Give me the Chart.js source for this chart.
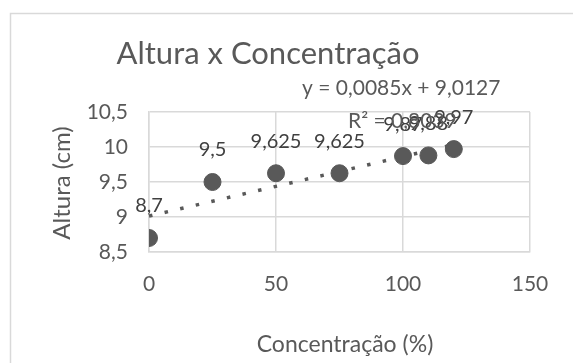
<!DOCTYPE html>
<html>
<head>
<meta charset="utf-8">
<script src="https://cdn.jsdelivr.net/npm/chart.js@4"></script>
<style>
  html, body { margin: 0; padding: 0; background: #fff; overflow: hidden; }
  #wrap { width: 573px; height: 363px; position: relative; }
</style>
</head>
<body>
<div id="wrap"><canvas id="c" width="573" height="363"></canvas></div>
<script>
// --- data ---
const concentracao = [0, 25, 50, 75, 100, 110, 120];
const altura = [8.7, 9.5, 9.625, 9.625, 9.87, 9.88, 9.97];
// trendline end points (y = 0,0085x + 9,0127)
const trendX = [0, 120];
const trendY = [9.0127, 10.0327];
const xTicks = [0, 50, 100, 150];
const yTicks = [8.5, 9, 9.5, 10, 10.5];

const FONT = "Lato, Carlito, 'Liberation Sans', sans-serif";
const GRAY = "#595959";
const GRID = "#d9d9d9";

const fmt = (v) => String(v).replace(".", ",");

// frame, title, equation, axis titles
const textsPlugin = {
  id: "texts",
  beforeDraw(chart) {
    const ctx = chart.ctx;
    ctx.save();
    ctx.fillStyle = "#fff";
    ctx.fillRect(0, 0, chart.width, chart.height);
    ctx.strokeStyle = GRID;
    ctx.lineWidth = 1.5;
    ctx.beginPath();
    ctx.moveTo(10.5, 400);
    ctx.lineTo(10.5, 13.5);
    ctx.lineTo(600, 13.5);
    ctx.stroke();
    ctx.restore();
  },
  afterDraw(chart) {
    const ctx = chart.ctx;
    ctx.save();
    ctx.fillStyle = GRAY;
    ctx.textBaseline = "alphabetic";
    ctx.textAlign = "center";
    ctx.font = "31px " + FONT;
    ctx.fillText("Altura x Concentração", 268, 64);

    ctx.textBaseline = "middle";
    ctx.font = "23px " + FONT;
    ctx.fillText("Concentração (%)", 345, 345);

    ctx.save();
    ctx.translate(62, 183);
    ctx.rotate(-Math.PI / 2);
    ctx.font = "24px " + FONT;
    ctx.fillText("Altura (cm)", 0, 0);
    ctx.restore();

    ctx.textAlign = "left";
    ctx.font = "21px " + FONT;
    ctx.fillText("y = 0,0085x + 9,0127", 302, 88);
    ctx.fillText("R² = 0,8039", 348, 121);
    ctx.restore();
  }
};

// value labels above the points
const labelsPlugin = {
  id: "pointLabels",
  afterDatasetsDraw(chart) {
    const ctx = chart.ctx;
    const meta = chart.getDatasetMeta(0);
    ctx.save();
    ctx.fillStyle = "#404040";
    ctx.font = "20px " + FONT;
    ctx.textAlign = "center";
    ctx.textBaseline = "middle";
    meta.data.forEach((pt, i) => {
      ctx.fillText(fmt(altura[i]), pt.x, pt.y - 32);
    });
    ctx.restore();
  }
};

new Chart(document.getElementById("c"), {
  type: "scatter",
  data: {
    datasets: [
      {
        label: "Altura",
        data: concentracao.map((x, i) => ({ x, y: altura[i] })),
        backgroundColor: GRAY,
        borderColor: GRAY,
        pointRadius: 8.5,
        pointHoverRadius: 8.5,
      },
      {
        label: "Linear",
        type: "line",
        data: trendX.map((x, i) => ({ x, y: trendY[i] })),
        borderColor: GRAY,
        borderWidth: 3.5,
        borderDash: [3.5, 12.5],
        borderCapStyle: "butt",
        pointRadius: 0,
        fill: false,
      },
    ],
  },
  options: {
    responsive: false,
    animation: false,
    events: [],
    layout: { padding: { top: 112, right: 43, bottom: 0, left: 0 } },
    plugins: {
      legend: { display: false },
      title: { display: false },
      tooltip: { enabled: false },
    },
    scales: {
      x: {
        type: "linear",
        min: 0,
        max: 150,
        afterFit: (s) => { s.height = 111; },
        afterBuildTicks: (s) => { s.ticks = xTicks.map((v) => ({ value: v })); },
        ticks: {
          padding: 20,
          color: GRAY,
          font: { family: FONT, size: 21 },
          callback: (v) => fmt(v),
        },
        grid: { color: GRID, lineWidth: 1.5, drawTicks: false },
        border: { color: GRID, width: 1.5 },
      },
      y: {
        type: "linear",
        min: 8.5,
        max: 10.5,
        afterFit: (s) => { s.width = 149; },
        afterBuildTicks: (s) => { s.ticks = yTicks.map((v) => ({ value: v })); },
        ticks: {
          padding: 21,
          color: GRAY,
          font: { family: FONT, size: 21 },
          callback: (v) => fmt(v),
        },
        grid: { color: GRID, lineWidth: 1.5, drawTicks: false },
        border: { color: GRID, width: 1.5 },
      },
    },
  },
  plugins: [textsPlugin, labelsPlugin],
});
</script>
</body>
</html>
